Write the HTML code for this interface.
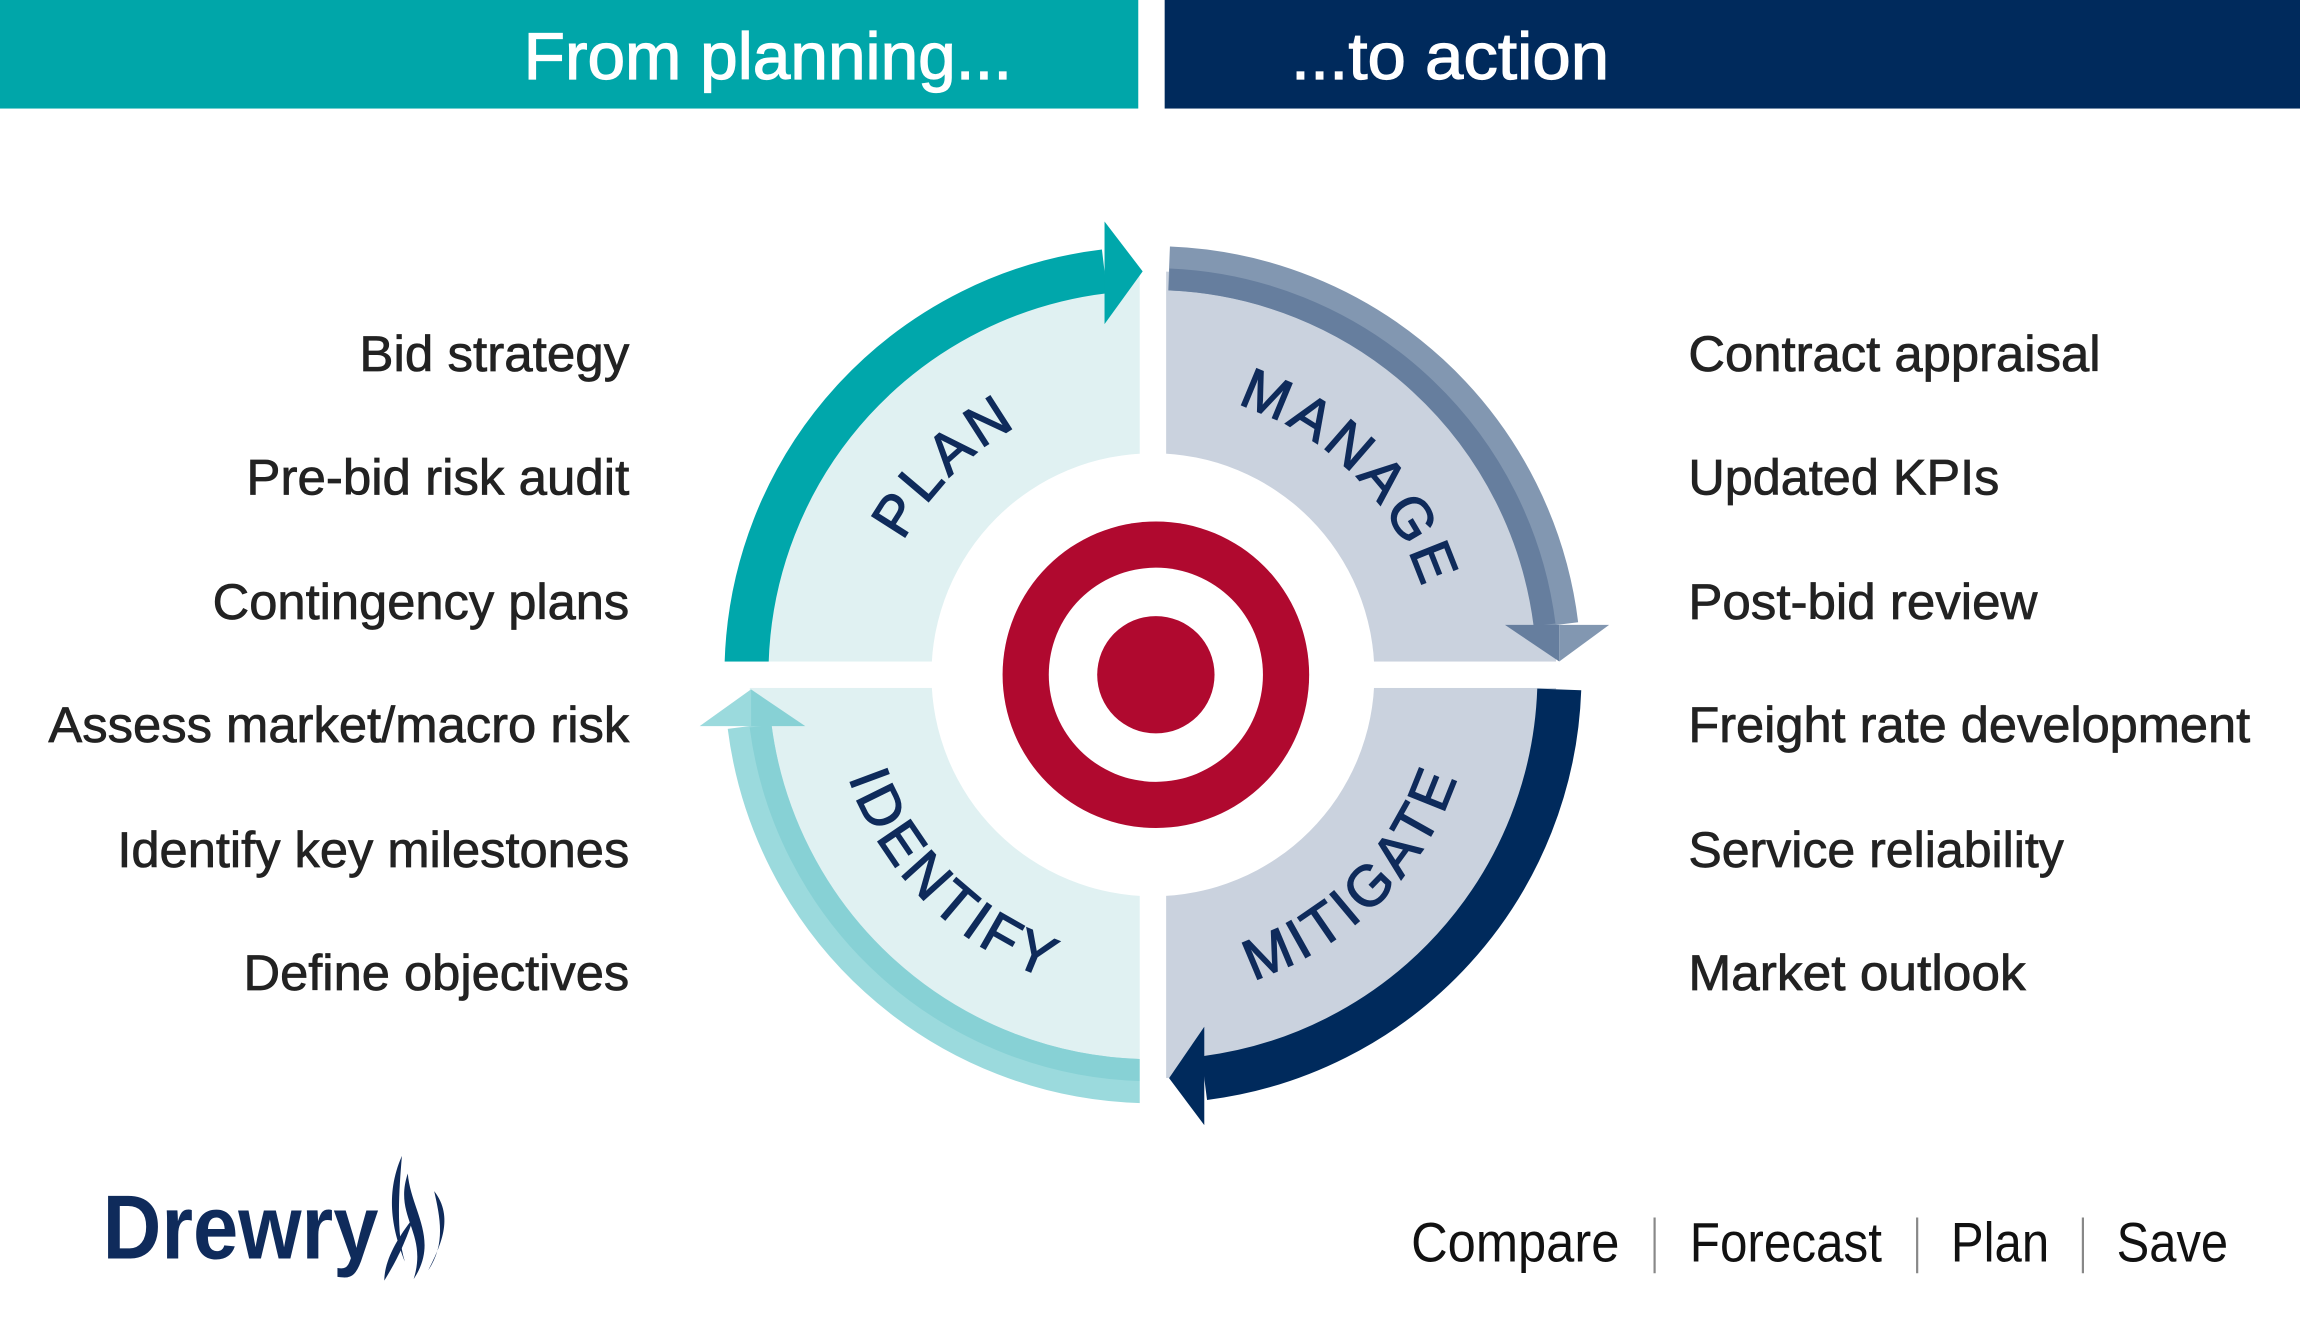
<!DOCTYPE html>
<html><head><meta charset="utf-8"><style>
html,body{margin:0;padding:0;background:#fff;}
svg{display:block;}
text{font-family:"Liberation Sans",sans-serif;}
</style></head><body>
<svg width="2300" height="1335" viewBox="0 0 1568 910.1" preserveAspectRatio="none" xmlns="http://www.w3.org/2000/svg">
<defs>
<clipPath id="L"><rect x="0" y="0" width="786" height="910"/></clipPath>
<clipPath id="R"><rect x="786" y="0" width="800" height="910"/></clipPath>
<path id="topP" d="M593,460 A193,193 0 1 1 979,460 A193,193 0 1 1 593,460"/>
<path id="botP" d="M567,460 A219,219 0 1 0 1005,460 A219,219 0 1 0 567,460"/>
</defs>
<rect x="0" y="0" width="776" height="74" fill="#00a6a9"/>
<rect x="794" y="0" width="774" height="74" fill="#002a5c"/>
<text x="357" y="54" font-size="45" fill="#fff" stroke="#fff" stroke-width="0.8" textLength="333" lengthAdjust="spacingAndGlyphs">From planning...</text>
<text x="880" y="54" font-size="45" fill="#fff" stroke="#fff" stroke-width="0.8" textLength="217" lengthAdjust="spacingAndGlyphs">...to action</text>

<circle cx="786" cy="460" r="275" fill="#e0f1f2" clip-path="url(#L)"/>
<circle cx="786" cy="460" r="275" fill="#cad2de" clip-path="url(#R)"/>

<path d="M509,452 A277,277 0 0 1 753,185" fill="none" stroke="#00a7ab" stroke-width="30"/>
<path d="M797,183 A277,277 0 0 1 1061,426" fill="none" stroke="#8297b1" stroke-width="30"/>
<path d="M797,190.5 A269.5,269.5 0 0 1 1053,426" fill="none" stroke="#667e9e" stroke-width="15"/>
<path d="M1063,470 A277,277 0 0 1 821,735" fill="none" stroke="#002a5c" stroke-width="30"/>
<path d="M778,737 A277,277 0 0 1 511,495" fill="none" stroke="#9bdadd" stroke-width="30"/>
<path d="M778,729.5 A269.5,269.5 0 0 1 518.5,495" fill="none" stroke="#87d1d5" stroke-width="15"/>

<rect x="777" y="80" width="18" height="700" fill="#fff"/>
<rect x="470" y="451" width="640" height="18" fill="#fff"/>
<circle cx="786" cy="460" r="151" fill="#fff"/>

<polygon points="753,151 779,185 753,221" fill="#00a7ab"/>
<polygon points="1026,426 1063,426 1063,451" fill="#667e9e"/>
<polygon points="1063,426 1097,426 1063,451" fill="#8297b1"/>
<polygon points="821,700 797,735 821,767" fill="#002a5c"/>
<polygon points="477,495 512,495 512,470" fill="#9bdadd"/>
<polygon points="512,470 549,495 512,495" fill="#87d1d5"/>

<circle cx="788" cy="460" r="104.5" fill="#b0092f"/>
<circle cx="788" cy="460" r="73" fill="#fff"/>
<circle cx="788" cy="460" r="40" fill="#b0092f"/>

<g font-size="39" fill="#0f2b5b" stroke="#0f2b5b" stroke-width="0.9" letter-spacing="3">
<text><textPath href="#topP" startOffset="12.5%" text-anchor="middle">PLAN</textPath></text>
<text><textPath href="#topP" startOffset="37.5%" text-anchor="middle">MANAGE</textPath></text>
<text><textPath href="#botP" startOffset="12.5%" text-anchor="middle">IDENTIFY</textPath></text>
<text><textPath href="#botP" startOffset="37.5%" text-anchor="middle">MITIGATE</textPath></text>
</g>

<g font-size="34" fill="#222" stroke="#222" stroke-width="0.5" lengthAdjust="spacingAndGlyphs">
<text x="245" y="253" textLength="184" lengthAdjust="spacingAndGlyphs">Bid strategy</text>
<text x="168" y="337" textLength="261" lengthAdjust="spacingAndGlyphs">Pre-bid risk audit</text>
<text x="145" y="422" textLength="284" lengthAdjust="spacingAndGlyphs">Contingency plans</text>
<text x="33" y="506" textLength="396" lengthAdjust="spacingAndGlyphs">Assess market/macro risk</text>
<text x="80" y="591" textLength="349" lengthAdjust="spacingAndGlyphs">Identify key milestones</text>
<text x="166" y="675" textLength="263" lengthAdjust="spacingAndGlyphs">Define objectives</text>
<text x="1151" y="253" textLength="281" lengthAdjust="spacingAndGlyphs">Contract appraisal</text>
<text x="1151" y="337" textLength="212" lengthAdjust="spacingAndGlyphs">Updated KPIs</text>
<text x="1151" y="422" textLength="238" lengthAdjust="spacingAndGlyphs">Post-bid review</text>
<text x="1151" y="506" textLength="383" lengthAdjust="spacingAndGlyphs">Freight rate development</text>
<text x="1151" y="591" textLength="256" lengthAdjust="spacingAndGlyphs">Service reliability</text>
<text x="1151" y="675" textLength="230" lengthAdjust="spacingAndGlyphs">Market outlook</text>
</g>

<g font-size="38" fill="#111">
<text x="962" y="860" textLength="142" lengthAdjust="spacingAndGlyphs">Compare</text>
<text x="1152" y="860" textLength="131" lengthAdjust="spacingAndGlyphs">Forecast</text>
<text x="1330" y="860" textLength="67" lengthAdjust="spacingAndGlyphs">Plan</text>
<text x="1443" y="860" textLength="76" lengthAdjust="spacingAndGlyphs">Save</text>
</g>
<g stroke="#888" stroke-width="1.5">
<line x1="1128" y1="830" x2="1128" y2="868"/>
<line x1="1307" y1="830" x2="1307" y2="868"/>
<line x1="1420" y1="830" x2="1420" y2="868"/>
</g>

<text x="70" y="858" font-size="62" font-weight="bold" fill="#0f2b5b" textLength="188" lengthAdjust="spacingAndGlyphs">Drewry</text>
<path d="M274,788 C262,815 268,840 276,860 C270,840 272,812 274,788 Z" fill="#0f2b5b"/>
<path d="M278,800 C268,830 292,840 282,872 C300,845 280,825 278,800 Z" fill="#0f2b5b"/>
<path d="M296,812 C310,830 300,850 292,866 C304,848 300,830 296,812 Z" fill="#0f2b5b"/>
<path d="M282,830 C270,845 262,860 262,873 C270,860 276,848 282,830 Z" fill="#0f2b5b"/>
</svg>
</body></html>
